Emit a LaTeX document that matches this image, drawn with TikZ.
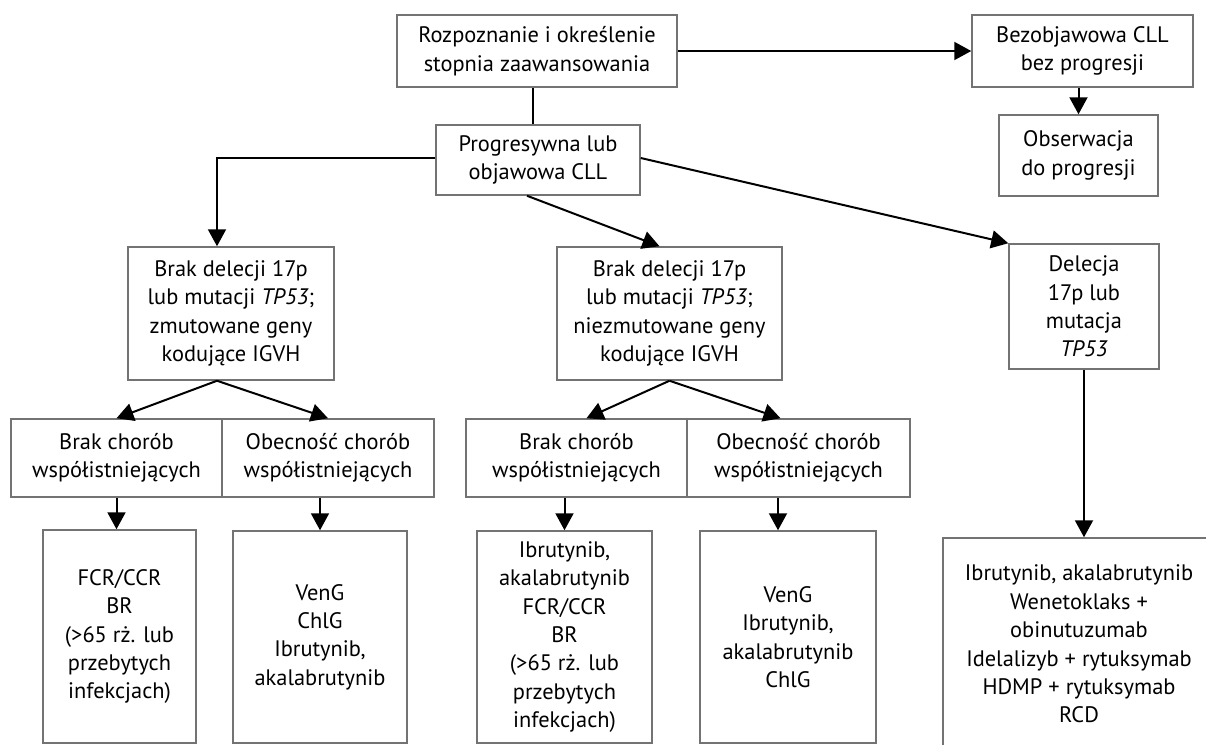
\documentclass[tikz,border=0pt]{standalone}
\usepackage{fontspec}
\setmainfont{PT Sans}
\usetikzlibrary{arrows.meta}

\begin{document}
\begin{tikzpicture}[x=0.5pt,y=-0.5pt,
  box/.style={draw=black!55, line width=0.75pt, fill=white, align=center, inner sep=0pt,
    font=\fontsize{11.2}{14.2}\selectfont},
  arr/.style={line width=1pt, -{Triangle[length=8.5pt,width=9pt]}},
  link/.style={line width=1pt},
  thinlink/.style={line width=0.6pt}]
\useasboundingbox (0,0) rectangle (1206,745);

\node[box, minimum width=140pt, minimum height=36pt] (diag) at (537,51) {Rozpoznanie i określenie\\stopnia zaawansowania};
\node[box, minimum width=110.5pt, minimum height=36pt] (asym) at (1082.5,51) {Bezobjawowa CLL\\bez progresji};
\node[box, minimum width=79.5pt, minimum height=40.5pt] (obs) at (1078.5,155.5) {Obserwacja\\do progresji};
\node[box, minimum width=102pt, minimum height=35pt] (prog) at (538,160) {Progresywna lub\\objawowa CLL};

\node[box, minimum width=103pt, minimum height=66.5pt] (mutA) at (231,313.5) {Brak delecji 17p\\lub mutacji \textit{TP53};\\zmutowane geny\\kodujące IGVH};
\node[box, minimum width=112.5pt, minimum height=66.5pt] (mutB) at (669.5,313.5) {Brak delecji 17p\\lub mutacji \textit{TP53};\\niezmutowane geny\\kodujące IGVH};
\node[box, minimum width=75pt, minimum height=62.5pt] (del) at (1084,306.5) {Delecja\\17p lub\\mutacja\\\textit{TP53}};

\node[box, minimum width=105.5pt, minimum height=39pt] (noComA) at (116.5,458) {Brak chorób\\współistniejących};
\node[box, minimum width=106pt, minimum height=39pt] (comA) at (328,458) {Obecność chorób\\współistniejących};
\node[box, minimum width=110.5pt, minimum height=39pt] (noComB) at (576.5,458) {Brak chorób\\współistniejących};
\node[box, minimum width=111.5pt, minimum height=39pt] (comB) at (798.5,458) {Obecność chorób\\współistniejących};

\node[box, minimum width=76.5pt, minimum height=106.5pt] (trA1) at (119.5,636.5) {FCR/CCR\\BR\\(>65 rż. lub\\przebytych\\infekcjach)};
\node[box, minimum width=87pt, minimum height=106pt] (trA2) at (320,637) {VenG\\ChlG\\Ibrutynib,\\akalabrutynib};
\node[box, minimum width=87.5pt, minimum height=106pt] (trB1) at (564.5,637) {Ibrutynib,\\akalabrutynib\\FCR/CCR\\BR\\(>65 rż. lub\\przebytych\\infekcjach)};
\node[box, minimum width=88pt, minimum height=106pt] (trB2) at (788,637) {VenG\\Ibrutynib,\\akalabrutynib\\ChlG};
\node[box, minimum width=136pt, minimum height=106pt] (trC) at (1079,644) {Ibrutynib, akalabrutynib\\Wenetoklaks +\\obinutuzumab\\Idelalizyb + rytuksymab\\HDMP + rytuksymab\\RCD};

\draw[thinlink] ([xshift=-2pt]diag.south) -- ([xshift=-2pt]diag.south |- prog.north);
\draw[arr] (diag.east) -- (asym.west);
\draw[arr] (obs.north |- asym.south) -- (obs.north);

\draw[arr] ([yshift=1pt]prog.west) -| ([xshift=-7pt]mutA.north);
\draw[arr] ([xshift=-5.5pt]prog.south) -- ([xshift=-5pt]mutB.north);
\draw[arr] ([yshift=1pt]prog.east) -- (del.north west);

\draw[arr] ([xshift=-7pt]mutA.south) -- (noComA.north);
\draw[arr] ([xshift=-7pt]mutA.south) -- (comA.north);
\draw[arr] (mutB.south) -- ([xshift=5pt]noComB.north);
\draw[arr] (mutB.south) -- ([xshift=-9pt]comB.north);
\draw[arr] (del.south) -- (del.south |- trC.north);

\draw[arr] (noComA.south) -- (noComA.south |- trA1.north);
\draw[arr] (trA2.north |- comA.south) -- (trA2.north);
\draw[arr] (trB1.north |- noComB.south) -- (trB1.north);
\draw[arr] ([xshift=-5pt]trB2.north |- comB.south) -- ([xshift=-5pt]trB2.north);
\end{tikzpicture}
\end{document}
